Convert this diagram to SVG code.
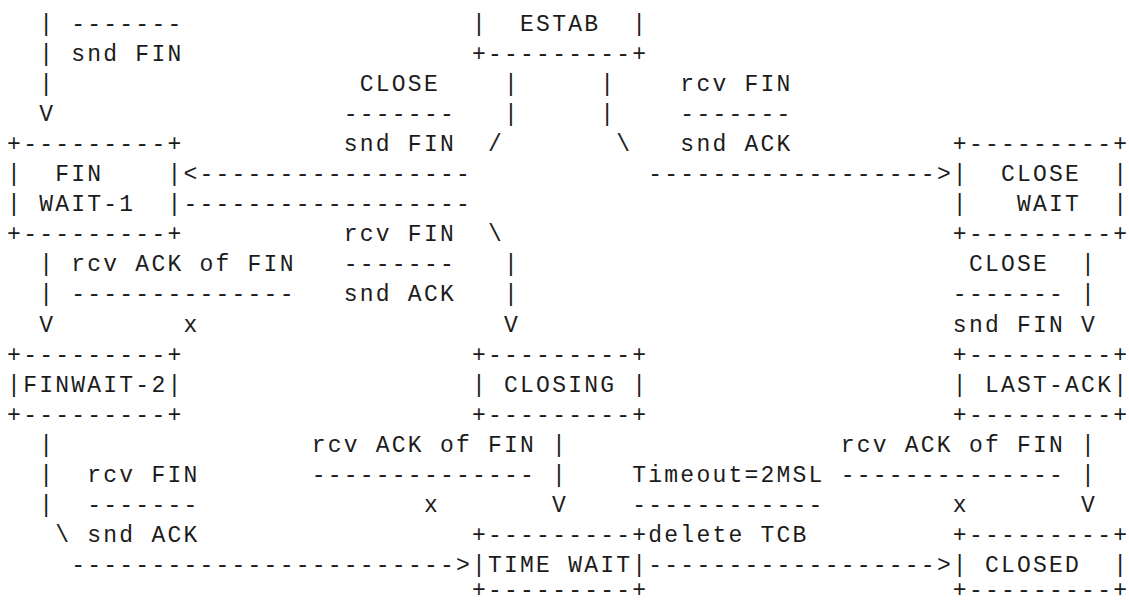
<svg xmlns="http://www.w3.org/2000/svg" width="1129" height="604" viewBox="0 0 1129 604" xml:space="preserve">
<style>
text { font-family: "Liberation Mono", "Courier New", monospace; font-size: 23px; letter-spacing: 2.23px; fill: #1c1c1c; white-space: pre; }
</style>
<rect width="1129" height="604" fill="#ffffff"/>
<g id="node-estab">
<text x="471.97" y="30.5">|  ESTAB  |</text>
<text x="471.97" y="60.6">+---------+</text>
</g>
<g id="node-fin-wait-1">
<text x="7.10" y="150.9">+---------+</text>
<text x="7.10" y="181.0">|  FIN    |</text>
<text x="7.10" y="211.1">| WAIT-1  |</text>
<text x="7.10" y="241.2">+---------+</text>
</g>
<g id="node-close-wait">
<text x="952.87" y="150.9">+---------+</text>
<text x="952.87" y="181.0">|  CLOSE  |</text>
<text x="952.87" y="211.1">|   WAIT  |</text>
<text x="952.87" y="241.2">+---------+</text>
</g>
<g id="node-fin-wait-2">
<text x="7.10" y="361.6">+---------+</text>
<text x="7.10" y="391.7">|FINWAIT-2|</text>
<text x="7.10" y="421.8">+---------+</text>
</g>
<g id="node-closing">
<text x="471.97" y="361.6">+---------+</text>
<text x="471.97" y="391.7">| CLOSING |</text>
<text x="471.97" y="421.8">+---------+</text>
</g>
<g id="node-last-ack">
<text x="952.87" y="361.6">+---------+</text>
<text x="952.87" y="391.7">| LAST-ACK|</text>
<text x="952.87" y="421.8">+---------+</text>
</g>
<g id="node-time-wait">
<text x="471.97" y="542.2">+---------+</text>
<text x="471.97" y="572.3">|TIME WAIT|</text>
<text x="471.97" y="597">+---------+</text>
</g>
<g id="node-closed">
<text x="952.87" y="542.2">+---------+</text>
<text x="952.87" y="572.3">| CLOSED  |</text>
<text x="952.87" y="597">+---------+</text>
</g>
<g id="connectors">
<text x="39.16" y="30.5">|</text>
<text x="39.16" y="60.6">|</text>
<text x="39.16" y="90.7">|</text>
<text x="39.16" y="120.8">V</text>
<text x="504.03" y="90.7">|</text>
<text x="600.21" y="90.7">|</text>
<text x="504.03" y="120.8">|</text>
<text x="600.21" y="120.8">|</text>
<text x="488.00" y="150.9">/</text>
<text x="616.24" y="150.9">\</text>
<text x="183.43" y="181.0">&lt;-----------------</text>
<text x="648.30" y="181.0">------------------&gt;</text>
<text x="183.43" y="211.1">------------------</text>
<text x="488.00" y="241.2">\</text>
<text x="39.16" y="271.3">|</text>
<text x="504.03" y="271.3">|</text>
<text x="1081.11" y="271.3">|</text>
<text x="39.16" y="301.4">|</text>
<text x="504.03" y="301.4">|</text>
<text x="1081.11" y="301.4">|</text>
<text x="39.16" y="331.5">V</text>
<text x="504.03" y="331.5">V</text>
<text x="1081.11" y="331.5">V</text>
<text x="39.16" y="451.9">|</text>
<text x="552.12" y="451.9">|</text>
<text x="1081.11" y="451.9">|</text>
<text x="39.16" y="482.0">|</text>
<text x="552.12" y="482.0">|</text>
<text x="1081.11" y="482.0">|</text>
<text x="39.16" y="512.1">|</text>
<text x="552.12" y="512.1">V</text>
<text x="1081.11" y="512.1">V</text>
<text x="55.19" y="542.2">\</text>
<text x="71.22" y="572.3">------------------------&gt;</text>
<text x="648.30" y="572.3">------------------&gt;</text>
</g>
<g id="labels">
<text x="71.22" y="30.5">-------</text>
<text x="71.22" y="60.6">snd FIN</text>
<text x="359.76" y="90.7">CLOSE</text>
<text x="343.73" y="120.8">-------</text>
<text x="343.73" y="150.9">snd FIN</text>
<text x="680.36" y="90.7">rcv FIN</text>
<text x="680.36" y="120.8">-------</text>
<text x="680.36" y="150.9">snd ACK</text>
<text x="343.73" y="241.2">rcv FIN</text>
<text x="343.73" y="271.3">-------</text>
<text x="343.73" y="301.4">snd ACK</text>
<text x="71.22" y="271.3">rcv ACK of FIN</text>
<text x="71.22" y="301.4">--------------</text>
<text x="183.43" y="331.5">x</text>
<text x="968.90" y="271.3">CLOSE</text>
<text x="952.87" y="301.4">-------</text>
<text x="952.87" y="331.5">snd FIN</text>
<text x="311.67" y="451.9">rcv ACK of FIN</text>
<text x="311.67" y="482.0">--------------</text>
<text x="423.88" y="512.1">x</text>
<text x="840.66" y="451.9">rcv ACK of FIN</text>
<text x="840.66" y="482.0">--------------</text>
<text x="952.87" y="512.1">x</text>
<text x="87.25" y="482.0">rcv FIN</text>
<text x="87.25" y="512.1">-------</text>
<text x="87.25" y="542.2">snd ACK</text>
<text x="632.27" y="482.0">Timeout=2MSL</text>
<text x="632.27" y="512.1">------------</text>
<text x="648.30" y="542.2">delete TCB</text>
</g>
</svg>
